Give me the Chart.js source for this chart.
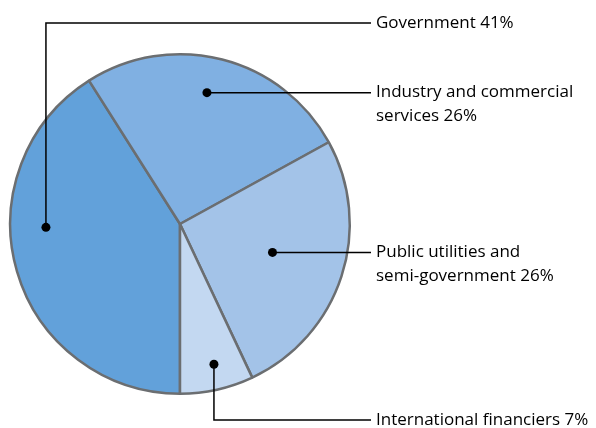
<!DOCTYPE html>
<html>
<head>
<meta charset="utf-8">
<script src="https://cdn.jsdelivr.net/npm/chart.js@4/dist/chart.umd.min.js"></script>
<style>
  html, body { margin: 0; padding: 0; background: #ffffff; }
  #wrap { width: 596px; height: 428px; }
</style>
</head>
<body>
<div id="wrap"><canvas id="c" width="596" height="428"></canvas></div>
<script>
// Shares of borrowing by sector (%)
const categories = ['Government', 'Industry and commercial services', 'Public utilities and semi-government', 'International financiers'];
const shares = [41, 26, 26, 7];
// Label lines as printed next to each slice
const labelLines = [
  ['Government 41%'],
  ['Industry and commercial', 'services 26%'],
  ['Public utilities and', 'semi-government 26%'],
  ['International financiers 7%']
];
const sliceColors = ['#62a1da', '#80b0e2', '#a3c3e8', '#c3d8f1'];

// Where the marker dot sits inside each slice: fraction across the slice angle, fraction of radius
const dotAngleFrac = [0.60, 0.47, 0.49, 0.46];
const dotRadiusFrac = [0.79, 0.79, 0.57, 0.85];
// Leader routing: 'up' / 'down' bend to a fixed row, 'flat' runs straight across
const leaderRoute = ['up', 'flat', 'flat', 'down'];
const leaderRowY = [23, null, null, 420];
const leaderEndX = 371;
const textX = 376;
const lineHeight = 23.5;

const leaderPlugin = {
  id: 'leaders',
  afterDatasetsDraw(chart) {
    const ctx = chart.ctx;
    const arcs = chart.getDatasetMeta(0).data;
    ctx.save();
    ctx.font = '17px "Open Sans", sans-serif';
    ctx.textBaseline = 'middle';
    ctx.textAlign = 'left';
    arcs.forEach((arc, i) => {
      const p = arc.getProps(['x', 'y', 'startAngle', 'endAngle', 'outerRadius'], true);
      const a = p.startAngle + (p.endAngle - p.startAngle) * dotAngleFrac[i];
      const r = p.outerRadius * dotRadiusFrac[i];
      const dx = p.x + Math.cos(a) * r;
      const dy = p.y + Math.sin(a) * r;
      const rowY = leaderRoute[i] === 'flat' ? dy : leaderRowY[i];

      ctx.strokeStyle = '#000000';
      ctx.lineWidth = 1.5;
      ctx.beginPath();
      ctx.moveTo(dx, dy);
      if (leaderRoute[i] !== 'flat') ctx.lineTo(dx, rowY);
      ctx.lineTo(leaderEndX, rowY);
      ctx.stroke();

      ctx.fillStyle = '#000000';
      ctx.beginPath();
      ctx.arc(dx, dy, 4.5, 0, Math.PI * 2);
      ctx.fill();

      ctx.fillStyle = '#000000';
      labelLines[i].forEach((t, k) => {
        ctx.fillText(t, textX, rowY + k * lineHeight);
      });
    });
    ctx.restore();
  }
};

new Chart(document.getElementById('c'), {
  type: 'pie',
  data: {
    labels: categories,
    datasets: [{
      data: shares,
      backgroundColor: sliceColors,
      borderColor: '#6b6e71',
      borderWidth: 2.5
    }]
  },
  options: {
    responsive: false,
    animation: false,
    rotation: 180,
    layout: { padding: { left: 9, right: 245, top: 53, bottom: 33 } },
    plugins: {
      legend: { display: false },
      tooltip: { enabled: false }
    }
  },
  plugins: [leaderPlugin]
});
</script>
</body>
</html>
